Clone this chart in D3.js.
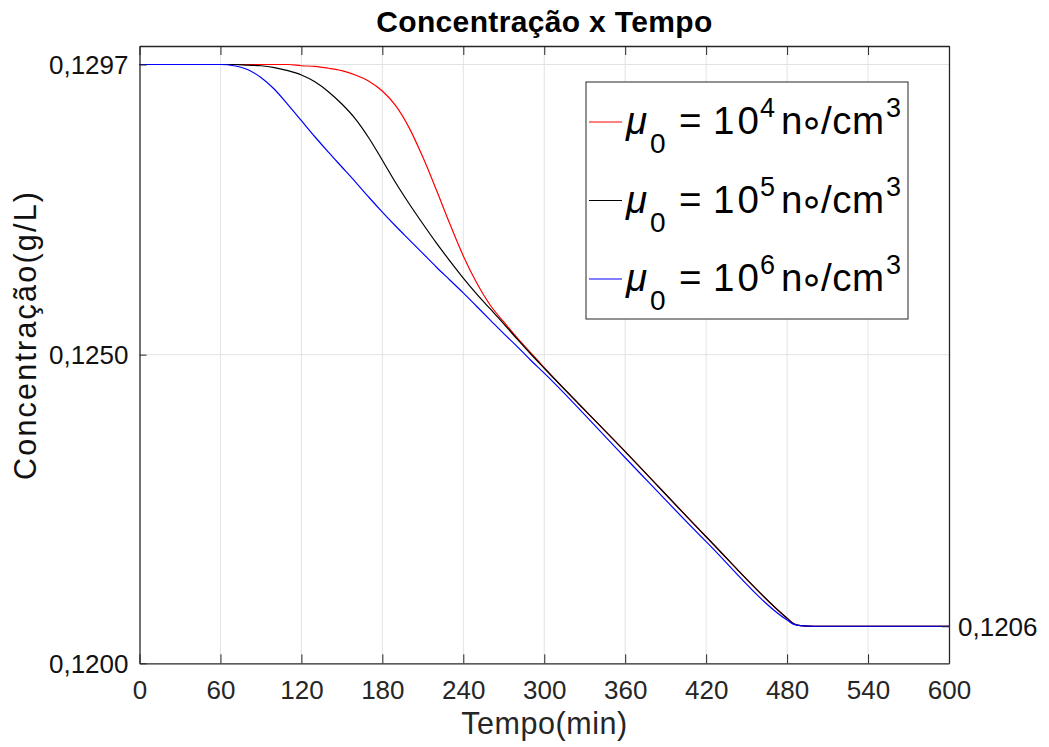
<!DOCTYPE html>
<html>
<head>
<meta charset="utf-8">
<script src="https://cdn.jsdelivr.net/npm/d3@7"></script>
<style>
  html, body { margin: 0; padding: 0; background: #fff; }
  svg { display: block; font-family: "Liberation Sans", Arial, sans-serif; }
</style>
</head>
<body>
<svg id="chart" width="1049" height="747"></svg>
<script>
// Time (min)
const times = [0, 60, 70, 80, 90, 100, 110, 120, 130, 140, 150, 160, 170, 180, 190, 200,
  210, 220, 230, 240, 250, 260, 270, 280, 290, 300, 360, 420, 480, 485, 490, 500, 600];

// Concentration (g/L) for each initial number of nuclei
const conc_mu4 = [0.12970, 0.12970, 0.12970, 0.12970, 0.12970, 0.12970, 0.12970, 0.12968, 0.12967,
  0.12964, 0.12960, 0.12953, 0.12943, 0.12927, 0.12903, 0.12867, 0.12820, 0.12767, 0.12712,
  0.12660, 0.12616, 0.12580, 0.12553, 0.12527, 0.12503, 0.12479, 0.12343, 0.12205, 0.12073,
  0.12064, 0.12061, 0.12060, 0.12060];
const conc_mu5 = [0.12970, 0.12970, 0.12970, 0.12969, 0.12968, 0.12965, 0.12960, 0.12953, 0.12942,
  0.12926, 0.12906, 0.12882, 0.12851, 0.12815, 0.12778, 0.12744, 0.12712, 0.12681, 0.12652,
  0.12624, 0.12598, 0.12574, 0.12550, 0.12525, 0.12501, 0.12478, 0.12343, 0.12205, 0.12073,
  0.12064, 0.12061, 0.12060, 0.12060];
const conc_mu6 = [0.12970, 0.12970, 0.12968, 0.12962, 0.12949, 0.12930, 0.12905, 0.12879, 0.12853,
  0.12828, 0.12804, 0.12780, 0.12755, 0.12731, 0.12708, 0.12686, 0.12664, 0.12642, 0.12621,
  0.12600, 0.12578, 0.12556, 0.12534, 0.12513, 0.12491, 0.12470, 0.12333, 0.12197, 0.12070,
  0.12063, 0.12061, 0.12060, 0.12060];

const seriesExponents = ["4", "5", "6"];
const seriesColors = ["#ff0000", "#000000", "#0000ff"];

const xTicks = [0, 60, 120, 180, 240, 300, 360, 420, 480, 540, 600];
const yTicks = [0.1200, 0.1250, 0.1297];
const yRightTicks = [0.1206];

const titleText = "Concentração x Tempo";
const xLabelText = "Tempo(min)";
const yLabelText = "Concentração(g/L)";

// ---- layout ----
const svg = d3.select("#chart");
const plotL = 139.5, plotR = 949, plotT = 46, plotB = 663.3;
const axisColor = "#262626";
const gridColor = "#e3e3e3";

const x = d3.scaleLinear().domain([0, 600]).range([plotL, plotR]);
const y = d3.scaleLinear().domain([0.12, 0.13]).range([plotB, plotT]);
const fmt = v => v.toFixed(4).replace(".", ",");

// background
svg.append("rect").attr("x", plotL).attr("y", plotT)
  .attr("width", plotR - plotL).attr("height", plotB - plotT).attr("fill", "#fff");

// grid
const grid = svg.append("g");
grid.selectAll("line.gx").data(xTicks.slice(1, -1)).join("line")
  .attr("x1", d => x(d)).attr("x2", d => x(d))
  .attr("y1", plotT).attr("y2", plotB)
  .attr("stroke", gridColor).attr("stroke-width", 1);
grid.selectAll("line.gy").data(yTicks.slice(1)).join("line")
  .attr("x1", plotL).attr("x2", plotR)
  .attr("y1", d => y(d)).attr("y2", d => y(d))
  .attr("stroke", gridColor).attr("stroke-width", 1);

// data lines
const series = [conc_mu4, conc_mu5, conc_mu6];
const line = d3.line()
  .x(d => x(d[0])).y(d => y(d[1]))
  .curve(d3.curveMonotoneX);
series.forEach((vals, i) => {
  svg.append("path")
    .datum(times.map((t, k) => [t, vals[k]]))
    .attr("d", line)
    .attr("fill", "none")
    .attr("stroke", seriesColors[i])
    .attr("stroke-width", 1.2);
});

// axes
const tickFont = 26;
const xAxisB = d3.axisBottom(x).tickValues(xTicks).tickSizeInner(-9).tickSizeOuter(0).tickPadding(17);
const gxB = svg.append("g").attr("transform", `translate(0,${plotB})`).call(xAxisB);
const xAxisT = d3.axisTop(x).tickValues(xTicks).tickSizeInner(-9).tickSizeOuter(0).tickFormat("");
const gxT = svg.append("g").attr("transform", `translate(0,${plotT})`).call(xAxisT);
const yAxisL = d3.axisLeft(y).tickValues(yTicks).tickFormat(fmt).tickSizeInner(-7).tickSizeOuter(0).tickPadding(11);
const gyL = svg.append("g").attr("transform", `translate(${plotL},0)`).call(yAxisL);
const yAxisR = d3.axisRight(y).tickValues(yRightTicks).tickFormat(fmt).tickSizeInner(-7).tickSizeOuter(0).tickPadding(9);
const gyR = svg.append("g").attr("transform", `translate(${plotR},0)`).call(yAxisR);

[gxB, gxT, gyL, gyR].forEach(g => {
  g.select(".domain").attr("stroke", axisColor).attr("stroke-width", 1.3);
  g.selectAll(".tick line").attr("stroke", axisColor).attr("stroke-width", 1);
  g.selectAll(".tick text")
    .attr("fill", axisColor)
    .attr("font-size", tickFont)
    .attr("font-family", "Liberation Sans, Arial, sans-serif");
});
gxB.selectAll(".tick text").attr("dy", "0.71em");
gyL.selectAll(".tick text").attr("dy", "0.35em").attr("fill", "#111");
gyR.selectAll(".tick text").attr("dy", "0.35em").attr("fill", "#111");

// title and axis labels
svg.append("text").attr("x", (plotL + plotR) / 2).attr("y", 31.5)
  .attr("text-anchor", "middle").attr("font-size", 30).attr("font-weight", "bold")
  .attr("textLength", 336).attr("lengthAdjust", "spacing")
  .attr("fill", "#000").text(titleText);
svg.append("text").attr("x", (plotL + plotR) / 2).attr("y", 734)
  .attr("text-anchor", "middle").attr("font-size", 30.5)
  .attr("textLength", 166).attr("lengthAdjust", "spacing")
  .attr("fill", axisColor).text(xLabelText);
svg.append("text").attr("transform", `translate(36,336) rotate(-90)`)
  .attr("text-anchor", "middle").attr("font-size", 30.5)
  .attr("textLength", 288).attr("lengthAdjust", "spacing")
  .attr("fill", "#111").text(yLabelText);

// legend
const lg = svg.append("g").attr("transform", "translate(586,82)");
lg.append("rect").attr("x", 0).attr("y", 0).attr("width", 322).attr("height", 237)
  .attr("fill", "#fff").attr("stroke", axisColor).attr("stroke-width", 1);
const rowBase = [52, 130.5, 209];
seriesExponents.forEach((ex, i) => {
  const b = rowBase[i];
  const row = lg.append("g").attr("transform", `translate(0,${b})`);
  row.append("line").attr("x1", 3).attr("x2", 36).attr("y1", -12).attr("y2", -12)
    .attr("stroke", seriesColors[i]).attr("stroke-width", 1.2);
  const big = 38.5, small = 27;
  // one text per row; each piece placed as a tspan (TeX-like sub/superscripts)
  const pieces = [
    { t: "μ", px: 40, py: 0, s: big, it: true },
    { t: "0", px: 64, py: 19, s: 28 },
    { t: "=", px: 93, py: 0, s: big },
    { t: "10", px: 127, py: 0, s: big, ls: 3 },
    { t: ex, px: 174, py: -17, s: small },
    { t: "n", px: 195, py: 0, s: big },
    { t: "∘", px: 213, py: 2, s: 40, ff: "DejaVu Sans" },
    { t: "/cm", px: 235, py: 0, s: big, ls: 0.5 },
    { t: "3", px: 300, py: -17, s: small }
  ];
  const txt = row.append("text").attr("fill", "#000").attr("font-size", big);
  pieces.forEach(p => {
    const ts = txt.append("tspan").attr("x", p.px).attr("y", p.py)
      .attr("font-size", p.s)
      .attr("font-style", p.it ? "italic" : "normal")
      .attr("letter-spacing", p.ls || 0)
      .text(p.t);
    if (p.ff) ts.attr("font-family", p.ff);
  });
});
</script>
</body>
</html>
